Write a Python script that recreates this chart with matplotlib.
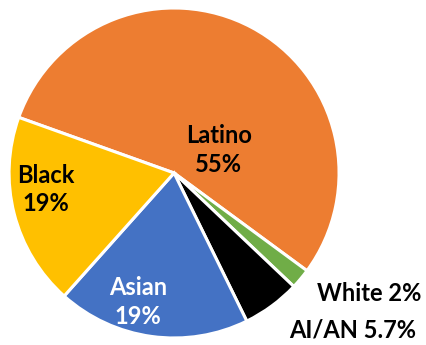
import matplotlib.pyplot as plt

groups = ['Latino', 'White', 'AI/AN', 'Asian', 'Black']
shares = [55, 2, 5.7, 19, 19]
share_text = ['55%', '2%', '5.7%', '19%', '19%']
colors = ['#ED7D31', '#70AD47', '#000000', '#4472C4', '#FFC000']

plt.rcParams['font.family'] = ['Lato', 'DejaVu Sans']

fig = plt.figure(figsize=(4.26, 3.45), dpi=100)
ax = fig.add_axes([0, 0, 1, 1])
ax.pie(shares, colors=colors, startangle=160.3, counterclock=False,
       radius=1.0, wedgeprops={'edgecolor': 'white', 'linewidth': 2.2})
ax.set_xlim(-1.055, 1.527)
ax.set_ylim(-1.042, 1.048)
ax.set_aspect('equal')
ax.axis('off')

fs = 17
tkw = dict(fontsize=fs, fontweight='bold', ha='center', va='center', linespacing=1.3)
ax.text(0.27, 0.14, f"{groups[0]}\n{share_text[0]}", color='black', **tkw)
ax.text(-0.78, -0.10, f"{groups[4]}\n{share_text[4]}", color='black', **tkw)
ax.text(-0.22, -0.78, f"{groups[3]}\n{share_text[3]}", color='white', **tkw)
ax.text(1.18, -0.73, f"{groups[1]} {share_text[1]}", color='black', **tkw)
ax.text(1.08, -0.95, f"{groups[2]} {share_text[2]}", color='black', **tkw)

fig.savefig('out.png', dpi=100)
